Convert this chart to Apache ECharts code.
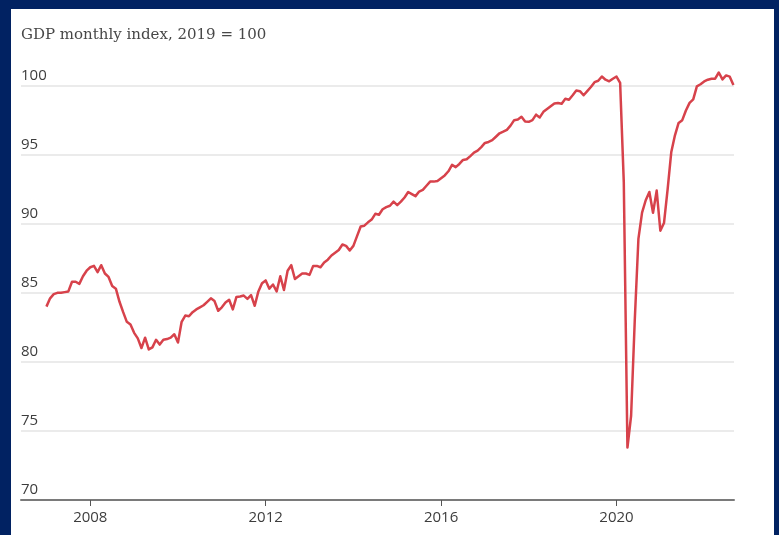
<!DOCTYPE html>
<html>
<head>
<meta charset="utf-8">
<script src="https://cdn.jsdelivr.net/npm/echarts@6/dist/echarts.min.js"></script>
<style>
  html, body { margin: 0; padding: 0; width: 779px; height: 535px; background: #012262; overflow: hidden; }
  #chart { position: absolute; left: 11px; top: 9px; width: 763px; height: 526px; background: #ffffff; }
</style>
</head>
<body>
<div id="chart"></div>
<script>
// Monthly GDP index (2019 = 100), January 2007 to September 2022
const startYear = 2007;
const gdpIndex = [
  84.0, 84.6, 84.9, 85.0, 85.0, 85.05, 85.1, 85.8, 85.8, 85.65, 86.2, 86.6,
  86.85, 86.95, 86.5, 87.0, 86.4, 86.15, 85.5, 85.3, 84.35, 83.6, 82.9, 82.7,
  82.1, 81.7, 81.0, 81.75, 80.9, 81.05, 81.6, 81.25, 81.6, 81.65, 81.75, 82.0,
  81.4, 82.9, 83.35, 83.3, 83.6, 83.8, 83.95, 84.1, 84.35, 84.6, 84.4, 83.7,
  83.95, 84.3, 84.5, 83.8, 84.7, 84.73, 84.8, 84.56, 84.83, 84.06, 85.1, 85.7,
  85.9, 85.3, 85.6, 85.1, 86.2, 85.2, 86.6, 87.0, 86.0, 86.2, 86.4, 86.4,
  86.3, 86.95, 86.95, 86.85, 87.2, 87.4, 87.7, 87.9, 88.1, 88.5, 88.4, 88.07,
  88.4, 89.1, 89.8, 89.86, 90.1, 90.3, 90.72, 90.65, 91.05, 91.2, 91.3, 91.6,
  91.35, 91.6, 91.9, 92.3, 92.15, 92.0, 92.33, 92.45, 92.75, 93.05, 93.05, 93.1,
  93.3, 93.5, 93.8, 94.26, 94.1, 94.33, 94.62, 94.67, 94.9, 95.15, 95.3, 95.55,
  95.85, 95.92, 96.05, 96.3, 96.55, 96.67, 96.8, 97.1, 97.5, 97.55, 97.75, 97.4,
  97.38, 97.5, 97.9, 97.7, 98.1, 98.3, 98.5, 98.7, 98.74, 98.69, 99.05, 98.98,
  99.3, 99.65, 99.6, 99.3, 99.6, 99.9, 100.25, 100.35, 100.66, 100.43, 100.31, 100.5,
  100.66, 100.2, 93.0, 73.8, 76.1, 83.0, 88.9, 90.8, 91.7, 92.3, 90.8, 92.4,
  89.5, 90.05, 92.5, 95.2, 96.4, 97.3, 97.5, 98.2, 98.75, 99.0, 99.95, 100.1,
  100.3, 100.43, 100.5, 100.5, 100.95, 100.45, 100.74, 100.65, 100.05
];
const yearTicks = [2008, 2012, 2016, 2020];
const titleText = 'GDP monthly index, 2019 = 100';

const seriesData = gdpIndex.map((v, i) => [startYear + i / 12, v]);

const chart = echarts.init(document.getElementById('chart'), null, { renderer: 'canvas' });
chart.setOption({
  animation: false,
  backgroundColor: '#ffffff',
  title: {
    text: titleText,
    left: 10,
    top: 19,
    padding: 0,
    textStyle: { fontFamily: 'DejaVu Serif', fontWeight: 'normal', fontSize: 15, color: '#474747' }
  },
  grid: { left: 10, right: 40, top: 49, bottom: 35, containLabel: false },
  xAxis: {
    type: 'value',
    min: 2006.42,
    max: 2022.68,
    axisLine: { show: true, lineStyle: { color: '#7a7a7a', width: 2 } },
    axisTick: { show: true, customValues: yearTicks, length: 6, lineStyle: { color: '#555555', width: 1 } },
    axisLabel: {
      customValues: yearTicks,
      margin: 10,
      fontFamily: 'Open Sans',
      fontSize: 15,
      color: '#3d3d3d',
      formatter: v => String(Math.round(v))
    },
    splitLine: { show: false }
  },
  yAxis: {
    type: 'value',
    min: 70,
    max: 102,
    interval: 5,
    axisLine: { show: false },
    axisTick: { show: false },
    axisLabel: {
      inside: true,
      margin: 0,
      align: 'left',
      verticalAlign: 'bottom',
      lineHeight: 20,
      showMaxLabel: false,
      fontFamily: 'Open Sans',
      fontSize: 15,
      color: '#3d3d3d'
    },
    splitLine: { show: true, showMaxLine: false, lineStyle: { color: '#ebebeb', width: 2 } }
  },
  series: [{
    type: 'line',
    data: seriesData,
    showSymbol: false,
    symbol: 'none',
    lineStyle: { color: '#d7424b', width: 2.5, join: 'round' },
    z: 5
  }]
});
</script>
</body>
</html>
